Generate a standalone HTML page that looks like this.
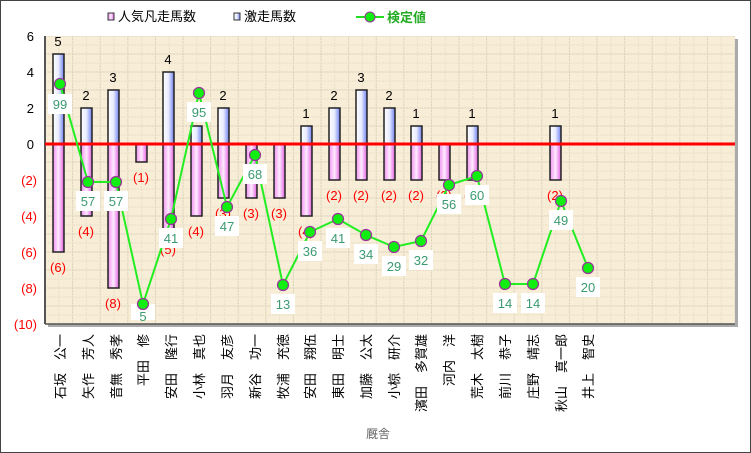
<!DOCTYPE html>
<html><head><meta charset="utf-8"><style>
body{margin:0;width:751px;height:453px;overflow:hidden;background:#fff;font-family:"Liberation Sans","Noto Sans CJK JP",sans-serif}
</style></head><body>
<div style="position:absolute;left:0;top:0;width:749px;height:451px;border:1px solid #444"></div>
<svg width="751" height="453" style="position:absolute;left:0;top:0" font-family="Liberation Sans, Noto Sans CJK JP, sans-serif">
<defs>
<linearGradient id="bp" x1="0" x2="1"><stop offset="0" stop-color="#fff"/><stop offset=".5" stop-color="#e8ecff"/><stop offset="1" stop-color="#7080f0"/></linearGradient>
<linearGradient id="pk" x1="0" x2="1"><stop offset="0" stop-color="#f090f0"/><stop offset=".5" stop-color="#ffeaff"/><stop offset="1" stop-color="#e060e0"/></linearGradient>
<pattern id="g" width="27.6" height="18" patternUnits="userSpaceOnUse" x="45" y="36"><rect width="27.6" height="18" fill="none" stroke="#d8cfb8" stroke-width="1" stroke-dasharray="2,1"/><line x1="13.8" y1="0" x2="13.8" y2="18" stroke="#e9e0c8" stroke-dasharray="2,1"/><line x1="0" y1="9" x2="27.6" y2="9" stroke="#e9e0c8" stroke-dasharray="2,1"/></pattern>
</defs>
<rect x="48" y="39" width="690" height="288" fill="#aaa"/>
<rect x="45" y="36" width="690" height="288" fill="#f8edd6"/>
<rect x="45" y="36" width="690" height="288" fill="url(#g)"/>
<line x1="45" y1="36" x2="45" y2="324" stroke="#555" stroke-width="2"/>
<line x1="45" y1="324" x2="735" y2="324" stroke="#555" stroke-width="1.5"/>
<g font-size="13" text-anchor="end">
<text x="34" y="41">6</text><text x="34" y="77">4</text><text x="34" y="113">2</text><text x="34" y="149">0</text>
<g fill="#f00"><text x="37" y="185">(2)</text><text x="37" y="221">(4)</text><text x="37" y="257">(6)</text><text x="37" y="293">(8)</text><text x="37" y="329">(10)</text></g>
</g>
<rect x="108" y="13" width="6" height="7" fill="url(#pk)" stroke="#333"/><text x="118" y="21" font-size="13">人気凡走馬数</text>
<rect x="234" y="13" width="6" height="7" fill="url(#bp)" stroke="#333"/><text x="244" y="21" font-size="13">激走馬数</text>
<line x1="356" y1="17" x2="384" y2="17" stroke="#2d2" stroke-width="2"/><circle cx="370" cy="17" r="5" fill="#1e1" stroke="#939"/>
<text x="387" y="22" font-size="13" fill="#2a2" font-weight="bold">検定値</text>
<g stroke="#222" stroke-width="1.5" fill="url(#bp)">
<rect x="53" y="54" width="11" height="90"/><rect x="81" y="108" width="11" height="36"/><rect x="108" y="90" width="11" height="54"/>
<rect x="163" y="72" width="11" height="72"/><rect x="191" y="126" width="11" height="18"/><rect x="218" y="108" width="11" height="36"/>
<rect x="301" y="126" width="11" height="18"/><rect x="329" y="108" width="11" height="36"/><rect x="356" y="90" width="11" height="54"/>
<rect x="384" y="108" width="11" height="36"/><rect x="411" y="126" width="11" height="18"/><rect x="467" y="126" width="11" height="18"/><rect x="550" y="126" width="11" height="18"/>
</g>
<g stroke="#222" stroke-width="1.5" fill="url(#pk)">
<rect x="53" y="144" width="11" height="108"/><rect x="81" y="144" width="11" height="72"/><rect x="108" y="144" width="11" height="144"/>
<rect x="136" y="144" width="11" height="18"/><rect x="163" y="144" width="11" height="90"/><rect x="191" y="144" width="11" height="72"/>
<rect x="218" y="144" width="11" height="54"/><rect x="246" y="144" width="11" height="54"/><rect x="274" y="144" width="11" height="54"/>
<rect x="301" y="144" width="11" height="72"/><rect x="329" y="144" width="11" height="36"/><rect x="356" y="144" width="11" height="36"/>
<rect x="384" y="144" width="11" height="36"/><rect x="411" y="144" width="11" height="36"/><rect x="439" y="144" width="11" height="36"/>
<rect x="467" y="144" width="11" height="36"/><rect x="550" y="144" width="11" height="36"/>
</g>
<line x1="45" y1="144" x2="735" y2="144" stroke="#f00" stroke-width="3"/>
<g font-size="13" text-anchor="middle">
<text x="58" y="46">5</text><text x="86" y="100">2</text><text x="113" y="82">3</text><text x="168" y="64">4</text><text x="223" y="100">2</text>
<text x="306" y="118">1</text><text x="334" y="100">2</text><text x="361" y="82">3</text><text x="389" y="100">2</text><text x="416" y="118">1</text><text x="472" y="118">1</text><text x="555" y="118">1</text>
<g fill="#f00">
<text x="58" y="272">(6)</text><text x="86" y="236">(4)</text><text x="113" y="308">(8)</text><text x="141" y="182">(1)</text><text x="168" y="254">(5)</text>
<text x="196" y="236">(4)</text><text x="223" y="218">(3)</text><text x="251" y="218">(3)</text><text x="279" y="218">(3)</text><text x="306" y="236">(4)</text>
<text x="334" y="200">(2)</text><text x="361" y="200">(2)</text><text x="389" y="200">(2)</text><text x="416" y="200">(2)</text><text x="444" y="200">(2)</text><text x="472" y="200">(2)</text><text x="555" y="200">(2)</text>
</g></g>
<polyline fill="none" stroke="#2e2" stroke-width="2" points="60,84 88,182 116,182 143,304 171,219 199,93 227,207 255,155 283,285 310,232 338,219 366,235 394,247 421,241 449,185 477,176 505,284 533,284 561,201 588,268"/>
<g fill="#fff">
<rect x="48" y="94" width="24" height="20"/><rect x="76" y="191" width="24" height="20"/><rect x="104" y="191" width="24" height="20"/><rect x="131" y="304" width="24" height="16"/>
<rect x="159" y="228" width="24" height="20"/><rect x="187" y="102" width="24" height="20"/><rect x="215" y="216" width="24" height="20"/><rect x="243" y="164" width="24" height="20"/>
<rect x="271" y="294" width="24" height="20"/><rect x="298" y="241" width="24" height="20"/><rect x="326" y="228" width="24" height="20"/><rect x="354" y="244" width="24" height="20"/>
<rect x="382" y="256" width="24" height="20"/><rect x="409" y="250" width="24" height="20"/><rect x="437" y="194" width="24" height="20"/><rect x="465" y="185" width="24" height="20"/>
<rect x="493" y="293" width="24" height="20"/><rect x="521" y="293" width="24" height="20"/><rect x="549" y="210" width="24" height="20"/><rect x="576" y="277" width="24" height="20"/>
</g>
<g fill="#1e1" stroke="#939" stroke-width="1.2">
<circle cx="60" cy="84" r="5.5"/><circle cx="88" cy="182" r="5.5"/><circle cx="116" cy="182" r="5.5"/><circle cx="143" cy="304" r="5.5"/><circle cx="171" cy="219" r="5.5"/>
<circle cx="199" cy="93" r="5.5"/><circle cx="227" cy="207" r="5.5"/><circle cx="255" cy="155" r="5.5"/><circle cx="283" cy="285" r="5.5"/><circle cx="310" cy="232" r="5.5"/>
<circle cx="338" cy="219" r="5.5"/><circle cx="366" cy="235" r="5.5"/><circle cx="394" cy="247" r="5.5"/><circle cx="421" cy="241" r="5.5"/><circle cx="449" cy="185" r="5.5"/>
<circle cx="477" cy="176" r="5.5"/><circle cx="505" cy="284" r="5.5"/><circle cx="533" cy="284" r="5.5"/><circle cx="561" cy="201" r="5.5"/><circle cx="588" cy="268" r="5.5"/>
</g>
<g font-size="13" fill="#3a9a70" text-anchor="middle">
<text x="60" y="109">99</text><text x="88" y="206">57</text><text x="116" y="206">57</text><text x="143" y="321">5</text><text x="171" y="243">41</text>
<text x="199" y="117">95</text><text x="227" y="231">47</text><text x="255" y="179">68</text><text x="283" y="309">13</text><text x="310" y="256">36</text>
<text x="338" y="243">41</text><text x="366" y="259">34</text><text x="394" y="271">29</text><text x="421" y="265">32</text><text x="449" y="209">56</text>
<text x="477" y="200">60</text><text x="505" y="308">14</text><text x="533" y="308">14</text><text x="561" y="225">49</text><text x="588" y="292">20</text>
</g>
<g font-size="13" text-anchor="end">
<text transform="translate(65,334) rotate(-90)">石坂　公一</text>
<text transform="translate(93,334) rotate(-90)">矢作　芳人</text>
<text transform="translate(121,334) rotate(-90)">音無　秀孝</text>
<text transform="translate(148,334) rotate(-90)">平田　修</text>
<text transform="translate(176,334) rotate(-90)">安田　隆行</text>
<text transform="translate(204,334) rotate(-90)">小林　真也</text>
<text transform="translate(232,334) rotate(-90)">羽月　友彦</text>
<text transform="translate(260,334) rotate(-90)">新谷　功一</text>
<text transform="translate(288,334) rotate(-90)">牧浦　充徳</text>
<text transform="translate(315,334) rotate(-90)">安田　翔伍</text>
<text transform="translate(343,334) rotate(-90)">東田　明士</text>
<text transform="translate(371,334) rotate(-90)">加藤　公太</text>
<text transform="translate(399,334) rotate(-90)">小椋　研介</text>
<text transform="translate(426,334) rotate(-90)">濱田　多賀雄</text>
<text transform="translate(454,334) rotate(-90)">河内　洋</text>
<text transform="translate(482,334) rotate(-90)">荒木　太樹</text>
<text transform="translate(510,334) rotate(-90)">前川　恭子</text>
<text transform="translate(538,334) rotate(-90)">庄野　靖志</text>
<text transform="translate(566,334) rotate(-90)">秋山　真一郎</text>
<text transform="translate(593,334) rotate(-90)">井上　智史</text>
</g>
<text x="378" y="438" font-size="12" fill="#666" text-anchor="middle">厩舎</text>
</svg>
</body></html>
